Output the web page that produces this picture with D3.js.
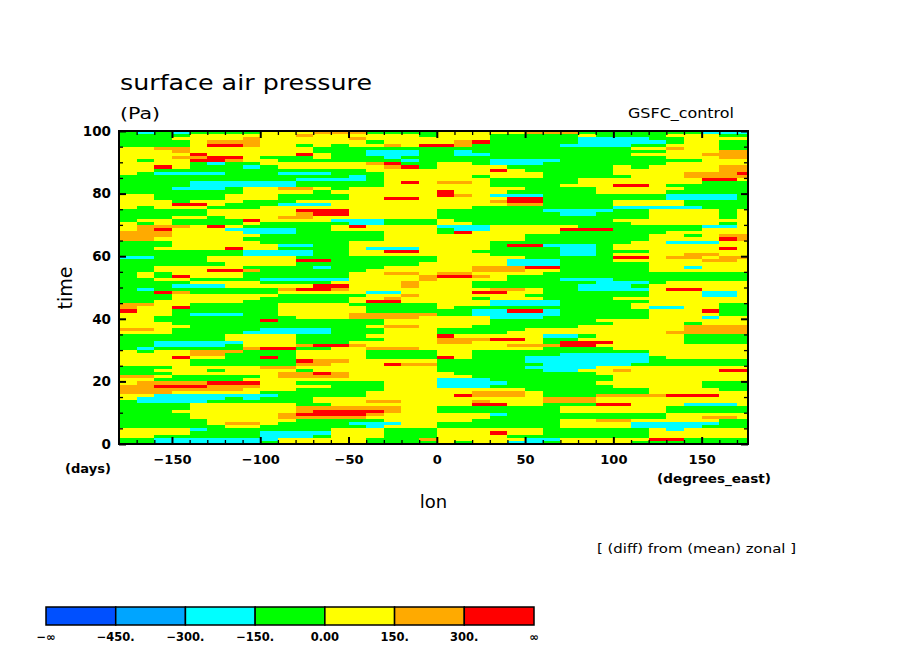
<!DOCTYPE html>
<html>
<head>
<meta charset="utf-8">
<script src="https://cdn.jsdelivr.net/npm/d3@7"></script>
<style>
  body { margin: 0; background: #fff; }
  svg { display: block; }
</style>
</head>
<body>
<div id="chart"></div>
<script>
// contour levels (Pa) and shading
const levels = [-450, -300, -150, 0, 150, 300];
const levelColors = ["#0050ff", "#00a5ff", "#00ffff", "#00ff00", "#ffff00", "#ffaa00", "#ff0000"];
const levelLabels = ["−∞", "−450.", "−300.", "−150.", "0.00", "150.", "300.", "∞"];
// representative value for each shading class (code 0..6)
const classValue = [-525, -375, -225, -75, 75, 225, 375];

const lonTicks = [-150, -100, -50, 0, 50, 100, 150];
const timeTicks = [0, 20, 40, 60, 80, 100];

// one row per day, top row = day 99..100, 36 columns of 10 deg from -180E
// digits are shading classes
const rows = [
  "323233 334445 553333 444445 553333 333222",
  "333344 444454 444443 444333 334333 344433",
  "333444 454444 454444 444333 332222 334444",
  "333345 554444 443444 456333 332222 234433",
  "333346 654434 344546 653333 322223 344433",
  "445544 444443 333333 333333 333334 454433",
  "444544 444443 332223 323333 333333 344455",
  "444464 444464 332223 322333 333334 444555",
  "444556 643334 333233 333333 333333 344455",
  "434466 544333 333323 333222 233333 333444",
  "444432 334444 445633 443222 333333 344444",
  "446433 323444 444563 444433 333343 444455",
  "443333 333333 334444 444643 333344 444455",
  "432222 333222 333444 444444 333344 445556",
  "333333 333333 323444 443444 333334 445555",
  "333333 333322 223444 444333 334444 444664",
  "333322 222233 333464 554333 334444 444333",
  "333322 222233 333444 444333 344466 433333",
  "333222 344554 344444 444443 333444 443333",
  "333333 344443 444444 644433 333444 433333",
  "443333 444333 344444 654222 333333 322223",
  "443333 444333 344664 444466 333333 322223",
  "444344 433344 444444 444566 333344 443333",
  "444664 333222 444444 444455 333344 443333",
  "434443 334444 444444 443333 333322 222333",
  "333334 444466 644444 333333 222233 444434",
  "333334 444456 644444 333333 322333 444434",
  "333443 444554 444444 333333 333333 444434",
  "344333 364444 222333 433333 333344 444444",
  "434333 343333 322333 443333 333334 444434",
  "455546 433333 464444 222444 443333 333224",
  "456444 222233 444444 322444 466633 333444",
  "555444 422233 333444 364444 433333 344444",
  "555444 443333 333444 444443 333333 443455",
  "554444 433333 333444 444443 333333 444465",
  "333444 443333 344444 444333 333334 422244",
  "333444 444223 344444 444366 222344 444444",
  "334444 644333 342224 444333 322344 444464",
  "333333 322223 344664 443333 322333 444444",
  "333333 322223 344444 444333 322344 445544",
  "223334 444433 333333 444443 333366 455455",
  "333334 444466 333333 444422 233344 444554",
  "333333 444433 333334 444422 233333 444444",
  "334444 433332 333444 445556 633333 442444",
  "334446 653333 334444 445554 433333 444444",
  "343444 433333 344554 554444 333333 333333",
  "343644 433333 344445 665433 333333 333333",
  "334433 332222 244445 444433 322233 333333",
  "333344 443333 444454 443333 333222 344444",
  "333222 444446 644454 443333 332223 444444",
  "323333 333566 544444 444554 332222 466444",
  "336533 333444 442244 446644 333333 444224",
  "333444 444333 334454 444443 333333 444224",
  "333444 443333 344544 443444 333344 444444",
  "334444 433333 346644 444222 233333 444444",
  "554433 333444 433333 444222 233334 444433",
  "544633 333444 443333 433333 333334 224433",
  "644333 333444 443333 332266 233333 444633",
  "444322 233444 455555 332222 233333 444433",
  "443333 333344 455554 444222 333333 444244",
  "443333 336333 333444 444333 333444 444444",
  "444333 333333 333444 444333 333344 443444",
  "444433 333333 334554 443333 334444 445555",
  "554333 332222 333444 333334 444444 445555",
  "444333 322222 333444 333344 444444 455555",
  "333333 444433 334444 644444 223444 443333",
  "333333 444433 333444 555664 334444 443333",
  "332222 244433 344444 554444 366644 443333",
  "332222 344456 654444 444455 566444 444444",
  "323333 356633 445554 444444 333344 444444",
  "434455 533344 443333 443333 333333 444444",
  "444455 333344 443333 443333 322222 444444",
  "444644 336344 443333 643332 222222 344444",
  "444433 333365 544444 333332 222222 333333",
  "444433 333355 444655 333333 222223 333333",
  "333444 445544 444444 333332 222444 444444",
  "334443 444434 444444 333333 224454 444466",
  "333444 444556 544444 433333 333444 444444",
  "554333 334555 544444 443333 333344 444444",
  "443333 344444 444444 222333 333344 444444",
  "455556 664433 333444 222233 333444 444333",
  "556665 554444 333444 222333 333344 444333",
  "555555 544433 333444 444443 333333 444433",
  "555444 443333 334444 445554 333333 444444",
  "442222 222333 334444 465554 333555 566644",
  "422222 323334 444444 444444 555444 444444",
  "322223 333334 445544 445444 555444 444444",
  "333344 444433 444444 446644 333664 442224",
  "333344 444455 555544 333333 344444 433333",
  "333444 444456 666544 333333 344444 433333",
  "333344 444566 665444 444233 333333 344444",
  "333344 444555 554444 444333 333333 344554",
  "333334 444433 333444 443333 344554 444433",
  "333334 554333 322244 333333 344442 222233",
  "333333 443333 332444 333333 344442 222333",
  "444423 333333 444333 444444 333333 424444",
  "444433 332222 444333 444644 333333 444444",
  "443333 332223 444333 444433 333333 444444",
  "332222 222444 443335 444442 244444 663333",
  "332222 223444 443333 434422 344443 333333"
];

const lonMin = -180, lonMax = 176.25, lonStep = 10;
const cells = [];
rows.forEach((r, i) => {
  const codes = r.replace(/\s/g, "").split("");
  codes.forEach((c, j) => {
    const lon0 = lonMin + j * lonStep;
    cells.push({
      lon0: lon0,
      lon1: Math.min(lon0 + lonStep, lonMax),
      t0: rows.length - 1 - i,
      t1: rows.length - i,
      value: classValue[+c]
    });
  });
});

const W = 904, H = 654;
const plot = { left: 119, right: 748, top: 131, bottom: 444 };

const svg = d3.select("#chart").append("svg")
  .attr("width", W).attr("height", H)
  .style("font-family", "'DejaVu Sans', Arial, sans-serif");

svg.append("rect").attr("width", W).attr("height", H).attr("fill", "#fff");

const x = d3.scaleLinear().domain([lonMin, lonMax]).range([plot.left, plot.right]);
const y = d3.scaleLinear().domain([0, 100]).range([plot.bottom, plot.top]);
const color = d3.scaleThreshold().domain(levels).range(levelColors);

// shaded field
svg.append("g")
  .attr("shape-rendering", "crispEdges")
  .selectAll("rect")
  .data(cells)
  .join("rect")
  .attr("x", (d) => x(d.lon0))
  .attr("y", (d) => y(d.t1))
  .attr("width", (d) => x(d.lon1) - x(d.lon0) + 0.6)
  .attr("height", (d) => y(d.t0) - y(d.t1) + 0.6)
  .attr("fill", (d) => color(d.value));

// inward tick marks on all four sides
function ticks(axisFn, scale, values, size, sw, transform) {
  svg.append("g")
    .attr("transform", transform)
    .call(axisFn(scale).tickValues(values).tickSize(-size).tickFormat(""))
    .call((g) => g.select(".domain").remove())
    .selectAll("line")
    .attr("stroke", "#000")
    .attr("stroke-width", sw);
}
const lonMinor = d3.range(-170, 176, 10).filter((v) => !lonTicks.includes(v));
const timeMinor = d3.range(5, 100, 5).filter((v) => !timeTicks.includes(v));

ticks(d3.axisBottom, x, lonMinor, 4, 1.3, `translate(0,${plot.bottom})`);
ticks(d3.axisBottom, x, lonTicks, 7, 2, `translate(0,${plot.bottom})`);
ticks(d3.axisTop, x, lonMinor, 4, 1.3, `translate(0,${plot.top})`);
ticks(d3.axisTop, x, lonTicks, 7, 2, `translate(0,${plot.top})`);
ticks(d3.axisLeft, y, timeMinor, 4, 1.3, `translate(${plot.left},0)`);
ticks(d3.axisLeft, y, timeTicks, 7, 2, `translate(${plot.left},0)`);
ticks(d3.axisRight, y, timeMinor, 4, 1.3, `translate(${plot.right},0)`);
ticks(d3.axisRight, y, timeTicks, 7, 2, `translate(${plot.right},0)`);

// frame
svg.append("rect")
  .attr("x", plot.left).attr("y", plot.top)
  .attr("width", plot.right - plot.left).attr("height", plot.bottom - plot.top)
  .attr("fill", "none").attr("stroke", "#000").attr("stroke-width", 2);

// tick labels
svg.append("g")
  .attr("transform", `translate(0,${plot.bottom})`)
  .call(d3.axisBottom(x).tickValues(lonTicks).tickSize(0).tickPadding(11))
  .call((g) => g.select(".domain").remove())
  .selectAll("text")
  .attr("fill", "#000")
  .attr("font-family", "'DejaVu Sans', sans-serif")
  .attr("font-weight", "bold")
  .attr("font-size", "13px");

svg.append("g")
  .attr("transform", `translate(${plot.left},0)`)
  .call(d3.axisLeft(y).tickValues(timeTicks).tickSize(0).tickPadding(8))
  .call((g) => g.select(".domain").remove())
  .selectAll("text")
  .attr("fill", "#000")
  .attr("font-family", "'DejaVu Sans', sans-serif")
  .attr("font-weight", "bold")
  .attr("font-size", "13.5px");

// titles and labels
function label(txt, px, py, opts) {
  const t = svg.append("text")
    .attr("x", px).attr("y", py)
    .attr("font-size", opts.size + "px")
    .attr("font-weight", opts.weight || "normal")
    .attr("text-anchor", opts.anchor || "start")
    .attr("fill", "#000")
    .text(txt);
  if (opts.len) t.attr("textLength", opts.len).attr("lengthAdjust", "spacingAndGlyphs");
  if (opts.rotate) t.attr("transform", `rotate(-90,${px},${py})`);
  return t;
}

label("surface air pressure", 120, 90, { size: 21, len: 252 });
label("(Pa)", 120, 119, { size: 16, len: 40 });
label("GSFC_control", 628, 118, { size: 14, len: 106 });
label("time", 72, 288, { size: 19, anchor: "middle", rotate: true });
label("lon", 433.5, 508, { size: 18, anchor: "middle" });
label("(days)", 65, 473, { size: 12, weight: "bold", len: 46 });
label("(degrees_east)", 657, 483, { size: 12, weight: "bold", len: 114 });
label("[ (diff) from (mean) zonal ]", 597, 553, { size: 13, len: 199 });

// colour bar
const cb = d3.scaleLinear().domain([0, levelColors.length]).range([46, 534]);
const cbTop = 607, cbH = 18;
svg.append("g")
  .selectAll("rect")
  .data(levelColors)
  .join("rect")
  .attr("x", (d, i) => cb(i))
  .attr("y", cbTop)
  .attr("width", (d, i) => cb(i + 1) - cb(i))
  .attr("height", cbH)
  .attr("fill", (d) => d)
  .attr("stroke", "#000")
  .attr("stroke-width", 1.5);

svg.append("g")
  .selectAll("text")
  .data(levelLabels)
  .join("text")
  .attr("x", (d, i) => cb(i))
  .attr("y", 641)
  .attr("text-anchor", "middle")
  .attr("font-size", "11.5px")
  .attr("font-weight", "bold")
  .attr("fill", "#000")
  .text((d) => d);
</script>
</body>
</html>
